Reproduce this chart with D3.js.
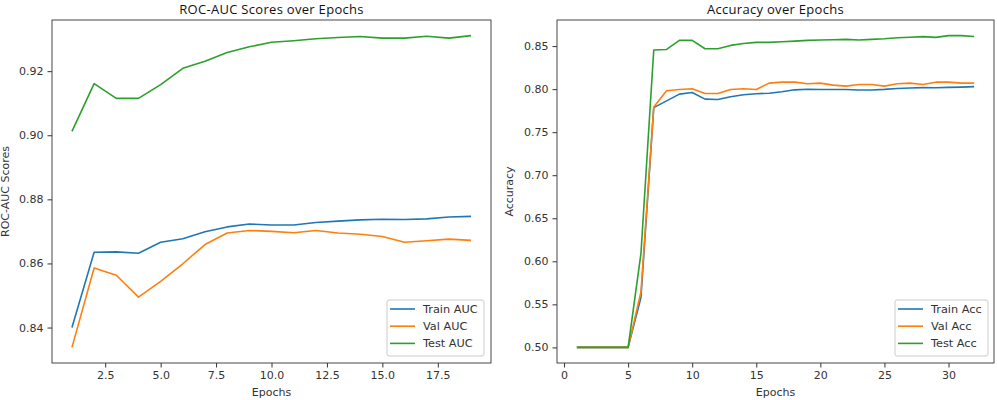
<!DOCTYPE html>
<html>
<head>
<meta charset="utf-8">
<script src="https://cdn.jsdelivr.net/npm/d3@7"></script>
<style>
  body { margin: 0; background: #fff; }
  svg { display: block; }
  .tick text { font-family: "DejaVu Sans", sans-serif; font-size: 11px; fill: #333; }
  .tick line { stroke: #333; }
</style>
</head>
<body>
<div id="chart"></div>
<script>
// Epochs
const aucEpochs = d3.range(1, 20);
const accEpochs = d3.range(1, 33);

// ROC-AUC per epoch
const trainAuc = [0.8400, 0.8635, 0.8636, 0.8632, 0.8666, 0.8677, 0.8699, 0.8714, 0.8723, 0.8720,
  0.8720, 0.8728, 0.8732, 0.8736, 0.8738, 0.8737, 0.8739, 0.8745, 0.8747];
const valAuc = [0.8338, 0.8586, 0.8563, 0.8495, 0.8544, 0.8599, 0.8659, 0.8695, 0.8703, 0.8700,
  0.8696, 0.8703, 0.8695, 0.8691, 0.8684, 0.8666, 0.8671, 0.8676, 0.8672];
const testAuc = [0.9012, 0.9161, 0.9115, 0.9115, 0.9158, 0.9209, 0.9231, 0.9258, 0.9276, 0.9290,
  0.9295, 0.9301, 0.9305, 0.9308, 0.9303, 0.9303, 0.9309, 0.9303, 0.9311];

// Accuracy per epoch
const trainAcc = [0.500, 0.500, 0.500, 0.500, 0.500, 0.558, 0.7785, 0.7864, 0.7942, 0.7961,
  0.7884, 0.7880, 0.7911, 0.7934, 0.7946, 0.7953, 0.7969, 0.7992, 0.7998, 0.7996,
  0.7996, 0.7996, 0.7990, 0.7990, 0.7997, 0.8008, 0.8014, 0.8018, 0.8016, 0.8020,
  0.8023, 0.8029];
const valAcc = [0.500, 0.500, 0.500, 0.500, 0.500, 0.5643, 0.7792, 0.7981, 0.7996, 0.8004,
  0.7950, 0.7950, 0.7996, 0.8004, 0.7996, 0.8070, 0.8081, 0.8081, 0.8062, 0.8070,
  0.8047, 0.8035, 0.8054, 0.8054, 0.8035, 0.8062, 0.8070, 0.8054, 0.8081, 0.8081,
  0.8070, 0.8070];
const testAcc = [0.500, 0.500, 0.500, 0.500, 0.500, 0.609, 0.8455, 0.8461, 0.8566, 0.8566,
  0.8469, 0.8469, 0.8508, 0.8531, 0.8543, 0.8543, 0.8550, 0.8558, 0.8566, 0.8570,
  0.8574, 0.8578, 0.8570, 0.8578, 0.8585, 0.8597, 0.8603, 0.8610, 0.8601, 0.8622,
  0.8622, 0.8612];

const aucYTicks = [0.84, 0.86, 0.88, 0.90, 0.92];
const aucXTicks = [2.5, 5, 7.5, 10, 12.5, 15, 17.5];
const accYTicks = [0.50, 0.55, 0.60, 0.65, 0.70, 0.75, 0.80, 0.85];
const accXTicks = [0, 5, 10, 15, 20, 25, 30];

const colors = ["#1f77b4", "#ff7f0e", "#2ca02c"];

const width = 997;
const height = 400;

const svg = d3.select("#chart")
  .append("svg")
  .attr("width", width)
  .attr("height", height);

// matplotlib-like 5% padding on the data range
function padded(ext) {
  const m = (ext[1] - ext[0]) * 0.05;
  return [ext[0] - m, ext[1] + m];
}

function panel(opts) {
  const { x0, x1, y0, y1, epochs, series, names, xTicks, yTicks, xFmt, yFmt, title, ylabel, legend } = opts;

  const allVals = series.flat();
  const x = d3.scaleLinear().domain(padded(d3.extent(epochs))).range([x0, x1]);
  const y = d3.scaleLinear().domain(padded(d3.extent(allVals))).range([y1, y0]);

  const g = svg.append("g");

  g.append("g")
    .attr("transform", `translate(0,${y1})`)
    .call(d3.axisBottom(x).tickValues(xTicks).tickFormat(xFmt).tickSize(4.5).tickPadding(4))
    .call(a => a.select(".domain").remove());

  g.append("g")
    .attr("transform", `translate(${x0},0)`)
    .call(d3.axisLeft(y).tickValues(yTicks).tickFormat(yFmt).tickSize(4.5).tickPadding(4))
    .call(a => a.select(".domain").remove());

  const line = d3.line().x((d, i) => x(epochs[i])).y(d => y(d));

  series.forEach((s, i) => {
    g.append("path")
      .datum(s)
      .attr("fill", "none")
      .attr("stroke", colors[i])
      .attr("stroke-width", 1.6)
      .attr("stroke-linejoin", "round")
      .attr("d", line);
  });

  // frame
  g.append("rect")
    .attr("x", x0).attr("y", y0)
    .attr("width", x1 - x0).attr("height", y1 - y0)
    .attr("fill", "none")
    .attr("stroke", "#333")
    .attr("stroke-width", 0.9);

  g.append("text")
    .attr("x", (x0 + x1) / 2).attr("y", 14)
    .attr("text-anchor", "middle")
    .style("font-family", "'Open Sans', sans-serif")
    .style("font-size", "13px")
    .style("letter-spacing", "0.3px")
    .attr("fill", "#111")
    .text(title);

  g.append("text")
    .attr("x", (x0 + x1) / 2).attr("y", 396)
    .attr("text-anchor", "middle")
    .style("font-family", "'DejaVu Sans', sans-serif")
    .style("font-size", "11px")
    .attr("fill", "#333")
    .text("Epochs");

  g.append("text")
    .attr("transform", `translate(${ylabel.x},${(y0 + y1) / 2}) rotate(-90)`)
    .attr("text-anchor", "middle")
    .style("font-family", "'DejaVu Sans', sans-serif")
    .style("font-size", "11px")
    .attr("fill", "#333")
    .text(ylabel.text);

  // legend
  const lg = g.append("g").attr("transform", `translate(${legend.x},${legend.y})`);
  lg.append("rect")
    .attr("width", legend.w).attr("height", 56)
    .attr("rx", 2)
    .attr("fill", "#fff")
    .attr("fill-opacity", 0.8)
    .attr("stroke", "#ccc");
  names.forEach((n, i) => {
    const yy = 9 + i * 17.2;
    lg.append("line")
      .attr("x1", 3).attr("x2", 28)
      .attr("y1", yy).attr("y2", yy)
      .attr("stroke", colors[i])
      .attr("stroke-width", 1.6);
    lg.append("text")
      .attr("x", 36).attr("y", yy + 4)
      .style("font-family", "'DejaVu Sans', sans-serif")
      .style("font-size", "11.3px")
      .attr("fill", "#333")
      .text(n);
  });
}

panel({
  x0: 52, x1: 491, y0: 20, y1: 363,
  epochs: aucEpochs,
  series: [trainAuc, valAuc, testAuc],
  names: ["Train AUC", "Val AUC", "Test AUC"],
  xTicks: aucXTicks, yTicks: aucYTicks,
  xFmt: d3.format(".1f"), yFmt: d3.format(".2f"),
  title: "ROC-AUC Scores over Epochs",
  ylabel: { x: 9, text: "ROC-AUC Scores" },
  legend: { x: 387, y: 300, w: 97 }
});

panel({
  x0: 557, x1: 994, y0: 20, y1: 363,
  epochs: accEpochs,
  series: [trainAcc, valAcc, testAcc],
  names: ["Train Acc", "Val Acc", "Test Acc"],
  xTicks: accXTicks, yTicks: accYTicks,
  xFmt: d3.format("d"), yFmt: d3.format(".2f"),
  title: "Accuracy over Epochs",
  ylabel: { x: 513, text: "Accuracy" },
  legend: { x: 895, y: 300, w: 93 }
});
</script>
</body>
</html>
